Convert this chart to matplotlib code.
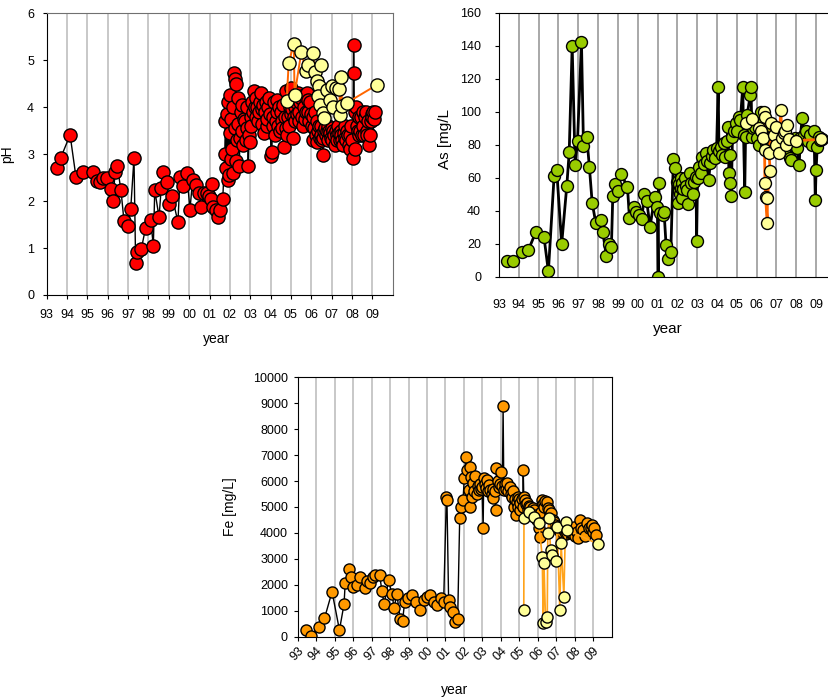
import numpy as np
import matplotlib
matplotlib.use("Agg")
import matplotlib.pyplot as plt

plt.rcParams['font.family'] = ['Liberation Sans', 'DejaVu Sans']

# ---------------- data ----------------
year_ticks = list(range(1993, 2010))
year_labels = ['93', '94', '95', '96', '97', '98', '99', '00', '01',
               '02', '03', '04', '05', '06', '07', '08', '09']

# pH, main series (red)
ph_year = [1993.49, 1993.69, 1994.15, 1994.44, 1994.80, 1995.26, 1995.46, 1995.62, 1995.78, 1995.95,
           1996.14, 1996.24, 1996.37, 1996.47, 1996.65, 1996.80, 1997.00, 1997.13, 1997.29, 1997.37,
           1997.45, 1997.65, 1997.86, 1998.11, 1998.24, 1998.31, 1998.52, 1998.63, 1998.73, 1998.90,
           1999.03, 1999.16, 1999.45, 1999.55, 1999.71, 1999.88, 2000.04, 2000.17, 2000.34, 2000.47,
           2000.60, 2000.73, 2000.86, 2000.99, 2001.05, 2001.12, 2001.19, 2001.32, 2001.42, 2001.52,
           2001.65,
           2001.75, 2001.78, 2001.82, 2001.86, 2001.90, 2001.93, 2001.96, 2001.99, 2002.02, 2002.05,
           2002.08, 2002.11, 2002.14, 2002.17, 2002.20, 2002.23, 2002.26, 2002.29, 2002.32, 2002.35,
           2002.38, 2002.42,
           2002.46, 2002.50, 2002.54, 2002.58, 2002.62, 2002.66, 2002.70, 2002.74, 2002.78, 2002.82,
           2002.86, 2002.90, 2002.94, 2002.98, 2003.02, 2003.06, 2003.10, 2003.14, 2003.18, 2003.22,
           2003.26, 2003.30, 2003.34, 2003.38, 2003.42, 2003.46, 2003.52, 2003.56, 2003.60, 2003.64,
           2003.68, 2003.72, 2003.76, 2003.80, 2003.84, 2003.88, 2003.94, 2003.98, 2004.02, 2004.06,
           2004.10, 2004.14, 2004.18, 2004.22, 2004.26, 2004.30, 2004.34, 2004.38, 2004.42, 2004.46,
           2004.50, 2004.54, 2004.58, 2004.62, 2004.66, 2004.70, 2004.74, 2004.78, 2004.82, 2004.86,
           2004.90, 2004.94, 2004.98, 2005.02, 2005.06, 2005.10, 2005.14, 2005.18, 2005.22, 2005.26,
           2005.30, 2005.34, 2005.38, 2005.42, 2005.46, 2005.50, 2005.54, 2005.58, 2005.62, 2005.66,
           2005.70, 2005.74, 2005.78, 2005.82, 2005.86, 2005.90, 2005.94, 2005.98, 2006.02, 2006.06,
           2006.10, 2006.14, 2006.18, 2006.22, 2006.26, 2006.30, 2006.34, 2006.38, 2006.42, 2006.46,
           2006.50, 2006.54, 2006.56, 2006.60, 2006.64, 2006.68, 2006.72, 2006.76, 2006.80, 2006.84,
           2006.88, 2006.92, 2006.96, 2007.00, 2007.04, 2007.08, 2007.12, 2007.16, 2007.20, 2007.24,
           2007.28, 2007.32, 2007.36, 2007.40, 2007.44, 2007.48, 2007.52, 2007.56, 2007.60, 2007.64,
           2007.68, 2007.72, 2007.76, 2007.80, 2007.84, 2007.88, 2007.92, 2007.96, 2008.00, 2008.04,
           2008.08, 2008.10, 2008.13, 2008.16, 2008.20, 2008.24, 2008.28, 2008.32, 2008.36, 2008.40,
           2008.44, 2008.48, 2008.52, 2008.56, 2008.60, 2008.64, 2008.68, 2008.72, 2008.76, 2008.80,
           2008.84, 2008.88, 2008.92, 2008.96, 2009.00, 2009.04, 2009.08, 2009.12]
ph_val = [2.71, 2.92, 3.41, 2.51, 2.62, 2.62, 2.42, 2.40, 2.50, 2.50,
          2.26, 2.00, 2.62, 2.74, 2.23, 1.57, 1.46, 1.84, 2.92, 0.68,
          0.92, 0.98, 1.43, 1.59, 1.05, 2.23, 1.66, 2.28, 2.62, 2.40,
          1.94, 2.11, 1.55, 2.52, 2.33, 2.60, 1.82, 2.45, 2.35, 2.17,
          1.87, 2.18, 2.18, 2.10, 2.04, 2.37, 1.87, 1.82, 1.66, 1.82,
          2.04,
          3.00, 3.70, 2.70, 3.85, 2.45, 4.10, 2.55, 3.45, 4.25, 2.90,
          3.75, 3.10, 4.00, 2.60, 4.72, 3.55, 4.60, 4.50, 2.85, 3.30,
          4.20, 3.65,
          2.75, 3.35, 3.90, 4.05, 3.50, 3.20, 3.75, 3.70, 3.30, 3.55,
          4.00, 2.75, 3.40, 3.25, 3.80, 3.60, 4.10, 3.90, 4.35, 4.00,
          3.80, 4.20, 4.00, 3.70, 3.90, 4.10, 4.30, 3.95, 3.65, 4.05,
          3.45, 3.90, 4.10, 3.60, 3.75, 4.00, 4.20, 3.85, 2.95, 3.05,
          3.60, 3.80, 4.10, 3.40, 3.70, 4.15, 3.90, 3.60, 4.00, 3.50,
          3.90, 3.70, 3.55, 4.05, 3.15, 3.80, 4.35, 3.55, 3.40, 3.80,
          3.60, 4.00, 3.85, 4.40, 3.95, 3.35, 3.80, 3.70, 4.00, 4.10,
          3.85, 4.30, 3.70, 3.90, 4.10, 4.20, 3.80, 3.60, 4.00, 4.25,
          3.75, 3.90, 4.30, 4.15, 3.90, 3.70, 4.10, 3.85, 3.60, 3.30,
          3.80, 3.55, 3.90, 3.40, 3.70, 3.25, 3.50, 3.60, 3.35, 3.60,
          3.40, 3.30, 2.98, 3.35, 3.50, 3.55, 3.40, 3.50, 3.60, 3.30,
          3.50, 3.45, 3.35, 3.30, 3.55, 3.50, 3.40, 3.20, 3.50, 3.40,
          3.30, 3.60, 3.45, 3.30, 3.50, 3.40, 3.30, 3.20, 3.45, 3.60,
          3.35, 3.30, 3.50, 3.40, 3.20, 3.10, 3.40, 3.60, 3.30, 2.92,
          5.32, 4.72, 3.10, 3.90, 4.00, 3.60, 3.50, 3.80, 3.40, 3.50,
          3.80, 3.40, 3.90, 3.60, 3.40, 3.80, 3.90, 3.50, 3.40, 3.70,
          3.20, 3.40, 3.70, 3.85, 3.80, 3.90, 3.75, 3.90]

# pH, second series (pale yellow)
ph2_year = [2004.79, 2004.89, 2005.14, 2005.18, 2005.51, 2005.74, 2005.84, 2006.07, 2006.20, 2006.30,
            2006.46, 2006.40, 2006.33, 2006.43, 2006.56, 2006.63, 2006.76, 2006.92, 2007.02, 2007.08,
            2007.21, 2007.38, 2007.41, 2007.48, 2007.51, 2007.74, 2009.21]
ph2_val = [4.13, 4.94, 5.35, 4.26, 5.17, 4.77, 4.89, 5.16, 4.74, 4.55,
           4.89, 4.45, 4.23, 4.05, 3.87, 3.77, 4.37, 4.16, 4.45, 4.01,
           4.40, 4.38, 3.84, 4.65, 4.03, 4.09, 4.47]

# As, main series (green)
as_year = [1993.42, 1993.72, 1994.14, 1994.48, 1994.85, 1995.27, 1995.49, 1995.78, 1995.91, 1996.16,
           1996.42, 1996.54, 1996.69, 1996.84, 1996.96, 1997.16, 1997.26, 1997.43, 1997.56, 1997.70,
           1997.88, 1998.15, 1998.24, 1998.41, 1998.57, 1998.67, 1998.74, 1998.87, 1999.01, 1999.16,
           1999.48, 1999.58, 1999.81, 1999.91, 2000.08, 2000.20, 2000.34, 2000.45, 2000.62, 2000.86,
           2000.99, 2001.03, 2001.05, 2001.13, 2001.26, 2001.33, 2001.43, 2001.53, 2001.67, 2001.80,
           2001.89, 2001.97, 2002.02, 2002.05, 2002.08, 2002.10, 2002.13, 2002.16, 2002.19, 2002.22,
           2002.25, 2002.30, 2002.36, 2002.42, 2002.48, 2002.55, 2002.62, 2002.70, 2002.78, 2002.86,
           2002.94, 2002.97, 2003.02, 2003.10, 2003.18, 2003.26, 2003.34, 2003.42, 2003.50, 2003.58,
           2003.66, 2003.74, 2003.82, 2003.90, 2003.98, 2004.06, 2004.10, 2004.18, 2004.26, 2004.34,
           2004.42, 2004.50, 2004.56, 2004.60, 2004.64, 2004.68, 2004.72, 2004.78, 2004.86, 2004.94,
           2005.02, 2005.10, 2005.18, 2005.30, 2005.34, 2005.40, 2005.44, 2005.52, 2005.68, 2005.72,
           2005.76, 2005.82, 2005.92, 2006.02, 2006.12, 2006.22, 2006.30, 2006.38, 2006.46, 2006.56,
           2006.66, 2006.76, 2006.86, 2006.96, 2007.06, 2007.16, 2007.26, 2007.36, 2007.46, 2007.56,
           2007.66, 2007.76, 2007.86, 2007.95, 2008.05, 2008.15, 2008.20, 2008.30, 2008.40, 2008.50,
           2008.60, 2008.70, 2008.80, 2008.90, 2008.96, 2009.00, 2009.06, 2009.14, 2009.22, 2009.28]
as_val = [9.7, 9.7, 14.7, 16.2, 26.9, 23.8, 3.2, 61.2, 64.6, 19.8,
          55.2, 75.4, 139.8, 67.7, 82.4, 142.0, 79.4, 84.4, 66.3, 44.8,
          32.7, 34.3, 26.9, 12.7, 19.6, 17.8, 48.9, 56.0, 52.1, 62.2,
          54.5, 35.8, 42.4, 39.2, 37.4, 34.7, 50.1, 46.1, 30.3, 48.5,
          42.4, 0.0, 57.0, 38.4, 37.4, 39.0, 19.0, 10.5, 15.2, 71.5,
          65.7, 57.6, 44.4, 58.0, 52.0, 56.0, 50.0, 60.0, 54.0, 48.0,
          57.0, 53.0, 60.0, 55.0, 52.5, 44.0, 62.6, 57.0, 50.0, 57.6,
          60.6, 21.8, 60.0, 66.7, 63.0, 72.7, 68.0, 74.7, 70.0, 58.6,
          68.7, 73.0, 76.8, 72.0, 78.0, 115.2, 76.0, 78.8, 74.0, 80.8,
          72.7, 82.0, 90.9, 62.6, 56.6, 74.0, 48.9, 84.8, 88.0, 92.9,
          88.0, 97.0, 95.0, 115.2, 86.0, 51.5, 84.8, 98.0, 110.1, 115.2,
          84.8, 90.0, 90.9, 84.0, 80.0, 100.0, 92.9, 88.0, 80.8, 86.9,
          84.0, 90.9, 84.8, 80.0, 82.8, 78.8, 80.0, 76.8, 82.0, 84.0,
          72.0, 70.7, 82.0, 84.0, 78.0, 67.5, 84.0, 96.0, 86.0, 88.0,
          82.0, 86.0, 80.0, 88.0, 46.5, 64.6, 78.8, 84.8, 82.8, 83.3]

# As, second series (pale yellow)
as2_year = [2005.44, 2005.78, 2006.11, 2006.20, 2006.30, 2006.36, 2006.44, 2006.40, 2006.42, 2006.45,
            2006.54, 2006.54, 2006.68, 2006.63, 2006.74, 2006.90, 2006.96, 2007.00, 2007.13, 2007.21,
            2007.30, 2007.38, 2007.45, 2007.50, 2007.55, 2007.63, 2008.00, 2009.23]
as2_val = [92.9, 95.4, 89.9, 88.0, 84.0, 100.0, 97.0, 77.0, 56.6, 48.5,
           32.3, 48.0, 64.2, 74.7, 92.9, 86.0, 90.9, 80.0, 74.7, 101.0,
           84.0, 86.9, 88.0, 80.0, 91.9, 83.2, 82.5, 83.2]

# Fe, main series (orange)
fe_year = [1993.45, 1993.71, 1994.18, 1994.45, 1994.86, 1995.26, 1995.51, 1995.57, 1995.78, 1995.89,
           1996.02, 1996.20, 1996.38, 1996.63, 1996.74, 1996.92, 1997.07, 1997.21, 1997.43, 1997.56,
           1997.68, 1997.92, 1998.10, 1998.22, 1998.37, 1998.55, 1998.68, 1998.79, 1998.95, 1999.18,
           1999.42, 1999.64, 1999.82, 2000.00, 2000.18, 2000.36, 2000.54, 2000.78, 2000.90, 2001.05,
           2001.08, 2001.17, 2001.26, 2001.39, 2001.54, 2001.66, 2001.77, 2001.84, 2001.95, 2002.02,
           2002.10, 2002.17, 2002.26, 2002.31, 2002.35, 2002.39,
           2002.44, 2002.50, 2002.56, 2002.62, 2002.68, 2002.74, 2002.80, 2002.86, 2002.92, 2002.98,
           2003.04, 2003.07, 2003.12, 2003.18, 2003.25, 2003.30, 2003.36, 2003.43, 2003.50, 2003.55,
           2003.60, 2003.66, 2003.71, 2003.76, 2003.82, 2003.89, 2003.95, 2004.01, 2004.08, 2004.12,
           2004.16, 2004.22, 2004.28, 2004.34, 2004.40, 2004.48, 2004.54, 2004.61, 2004.66, 2004.70,
           2004.76, 2004.80, 2004.86, 2004.90, 2004.94, 2004.97, 2005.02, 2005.06, 2005.12, 2005.18,
           2005.21, 2005.24, 2005.28, 2005.34, 2005.42, 2005.48, 2005.54, 2005.60, 2005.66, 2005.72,
           2005.78, 2005.84, 2005.90, 2005.96, 2006.05, 2006.11, 2006.18, 2006.24, 2006.30, 2006.33,
           2006.40, 2006.47, 2006.54, 2006.60, 2006.66, 2006.73, 2006.80, 2006.87, 2006.95, 2007.05,
           2007.14, 2007.23, 2007.32, 2007.41, 2007.50, 2007.59, 2007.68, 2007.77, 2007.86, 2007.95,
           2008.02, 2008.10, 2008.18, 2008.28, 2008.36, 2008.46, 2008.56, 2008.68, 2008.76, 2008.86,
           2008.94, 2009.00, 2009.06, 2009.13]
fe_val = [257, 39, 386, 707, 1735, 257, 1260, 2057, 2596, 2314,
          1928, 1992, 2314, 1864, 2159, 2057, 2288, 2378, 2391, 1774,
          1247, 2185, 1645, 1118, 1645, 668, 617, 1350, 1478, 1607,
          1350, 1028, 1414, 1542, 1607, 1350, 1221, 1478, 1324, 5398,
          5270, 1414, 1157, 964, 578, 668, 4563, 5013, 5270, 6105,
          6941, 6427, 5656, 5013, 6555, 6170,
          5398, 5913, 5600, 6200, 5500, 5800, 5650, 5900, 5700, 5784,
          4177, 6105, 5900, 5750, 6041, 5600, 5850, 5656, 5500, 5700,
          5334, 5600, 4884, 6491, 6000, 5784, 5900, 6362, 5800, 8895,
          5656, 5900, 5700, 5913, 5600, 5784, 5500, 5398, 5600, 5013,
          5300, 4700, 5200, 5398, 5000, 5300, 4900, 5141, 5300, 5000,
          6427, 5400, 5270, 5100, 5141, 4900, 5050, 5013, 4800, 4950,
          4884, 4600, 4700, 4499, 4200, 3856, 4800, 5270, 5100, 5013,
          5250, 5206, 4950, 4884, 4700, 4756, 4500, 4435, 4300, 4242,
          4100, 3985, 4050, 4113, 3950, 3985, 4050, 4113, 4000, 4242,
          3900, 4049, 3800, 4499, 4200, 4113, 3900, 4370, 4200, 4177,
          4300, 4049, 4200, 3920]

# Fe, second series (pale yellow)
fe2_year = [2005.24, 2005.25, 2005.51, 2005.78, 2006.05, 2006.24, 2006.29, 2006.33, 2006.42, 2006.51,
            2006.54, 2006.60, 2006.69, 2006.78, 2006.96, 2007.05, 2007.19, 2007.26, 2007.41, 2007.50,
            2007.59, 2009.26]
fe2_val = [1028, 4563, 4820, 4627, 4370, 3085, 514, 2853, 578, 771,
           3985, 4563, 3342, 3149, 2931, 4242, 1028, 3599, 1542, 4434,
           4113, 3573]


def draw_panel(rect, yr, vals, col, yr2, vals2, col2_line, ylim, yticks, ylabel,
               ms, lw, lw2, fs, lab_fs, grid_col, ylab_xy, xlab_xy, xpad, ypad,
               rot=False, xtick_len=3):
    ax = fig.add_axes(rect)
    for y in year_ticks[1:]:
        ax.axvline(y, color=grid_col, lw=1.4, zorder=0)
    ax.plot(yr, vals, '-o', color='black', lw=lw, mfc=col, mec='black',
            mew=1.0, ms=ms, zorder=2)
    ax.plot(yr2, vals2, '-o', color=col2_line, lw=lw2, mfc='#FFFF99', mec='black',
            mew=1.0, ms=ms, zorder=3)
    ax.set_xlim(1993, 2010)
    ax.set_ylim(*ylim)
    ax.set_yticks(yticks)
    ax.set_xticks(year_ticks)
    if rot:
        ax.set_xticklabels(year_labels, rotation=45, ha='right', rotation_mode='anchor')
    else:
        ax.set_xticklabels(year_labels)
    ax.tick_params(axis='x', direction='out', length=xtick_len, pad=xpad, labelsize=fs)
    ax.tick_params(axis='y', direction='out', length=3, pad=ypad, labelsize=fs)
    ax.set_ylabel(ylabel, fontsize=lab_fs)
    ax.set_xlabel('year', fontsize=lab_fs)
    ax.yaxis.set_label_coords(*ylab_xy)
    ax.xaxis.set_label_coords(*xlab_xy)
    return ax


fig = plt.figure(figsize=(8.29, 6.97), dpi=100)

ax1 = draw_panel([0.0563, 0.5768, 0.4174, 0.4042], ph_year, ph_val, '#FF0000',
                 ph2_year, ph2_val, '#FF6600', (0, 6), range(0, 7), 'pH',
                 ms=9.5, lw=1.0, lw2=1.4, fs=9, lab_fs=10, grid_col='#C8C8C8',
                 ylab_xy=(-0.095, 0.5), xlab_xy=(0.49, -0.13), xpad=7, ypad=6)
for s in ['top', 'right']:
    ax1.spines[s].set_color('#707070')

ax2 = draw_panel([0.602, 0.603, 0.4063, 0.3788], as_year, as_val, '#99CC00',
                 as2_year, as2_val, '#FF6600', (0, 160), range(0, 161, 20), 'As [mg/L',
                 ms=8.6, lw=2.0, lw2=2.0, fs=9, lab_fs=11, grid_col='#A8A8A8',
                 ylab_xy=(-0.14, 0.52), xlab_xy=(0.5, -0.17), xpad=16, ypad=10, xtick_len=0)

ax3 = draw_panel([0.3591, 0.0865, 0.3788, 0.3722], fe_year, fe_val, '#FF9900',
                 fe2_year, fe2_val, '#FFA31A', (0, 10000), range(0, 10001, 1000), 'Fe [mg/L]',
                 ms=8.0, lw=1.0, lw2=1.2, fs=9, lab_fs=10, grid_col='#C8C8C8',
                 ylab_xy=(-0.194, 0.5), xlab_xy=(0.5, -0.18), xpad=3, ypad=4, rot=True)

fig.savefig('out.png', dpi=100)
